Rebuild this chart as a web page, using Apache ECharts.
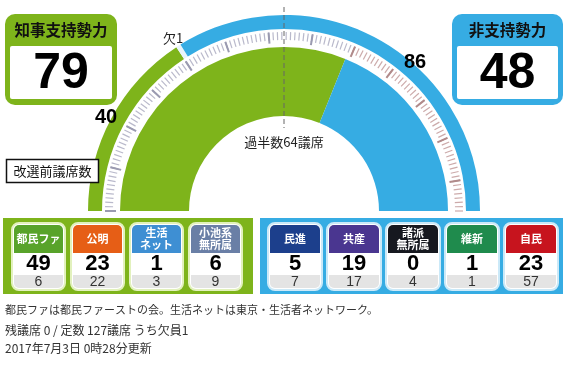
<!DOCTYPE html>
<html>
<head>
<meta charset="utf-8">
<script src="https://cdn.jsdelivr.net/npm/echarts@6/dist/echarts.min.js"></script>
<style>
html, body { margin: 0; padding: 0; background: #fff; }
#chart { width: 570px; height: 366px; }
</style>
</head>
<body>
<div id="chart"></div>
<script>
// ---- 都議選 議席データ ----
const TOTAL_SEATS = 127;
const MAJORITY = 64;
const VACANT = 1;

const supportParties = ['都民ファ', '公明', '生活\nネット', '小池系\n無所属'];
const supportSeats   = [49, 23, 1, 6];
const supportPrev    = [6, 22, 3, 9];

const oppParties = ['民進', '共産', '諸派\n無所属', '維新', '自民'];
const oppSeats   = [5, 19, 0, 1, 23];
const oppPrev    = [7, 17, 4, 1, 57];

const blocTitles = ['知事支持勢力', '非支持勢力'];
const prevCaption = '改選前議席数';
const vacantCaption = '欠';
const majorityCaption = '過半数' + MAJORITY + '議席';
const notes = [
  '都民ファは都民ファーストの会。生活ネットは東京・生活者ネットワーク。',
  '残議席 0 / 定数 127議席 うち欠員1',
  '2017年7月3日 0時28分更新'
];

// ---- styles ----
const GREEN = '#7eb41b';
const BLUE = '#36ace3';
const supportColors = ['#58a32a', '#e65e16', '#3e8fd3', '#6a7fa6'];
const oppColors = ['#1c3f8c', '#4a3690', '#16181f', '#1f8b4d', '#c7141e'];
const JP = "'Noto Sans CJK JP', sans-serif";
const NUM = "'Liberation Sans', Arial, sans-serif";

const sum = a => a.reduce((s, v) => s + v, 0);
const supportTotal = sum(supportSeats);
const oppTotal = sum(oppSeats);
const supportPrevTotal = sum(supportPrev);
const oppPrevTotal = sum(oppPrev);

// gauge geometry
const CX = 284, CY = 211;
const TICK_R = 179;
const MAJOR_STEP = 10;
const MAJOR_MAX = Math.floor(TOTAL_SEATS / MAJOR_STEP) * MAJOR_STEP;

function seatAngle(seat) { return 180 - 180 * seat / TOTAL_SEATS; }
function seatPoint(seat, r) {
  const a = seatAngle(seat) * Math.PI / 180;
  return [CX + r * Math.cos(a), CY - r * Math.sin(a)];
}

const none = 'rgba(0,0,0,0)';
const ringBase = {
  type: 'pie', center: [CX, CY], startAngle: 180, clockwise: true,
  silent: true, animation: false, avoidLabelOverlap: false,
  label: { show: false }, labelLine: { show: false },
  emphasis: { disabled: true },
  itemStyle: { borderWidth: 0 }
};

// a scale ring covering seats `from`..`to`
function tickRing(from, to, splits, split, tick, colorStops) {
  return {
    type: 'gauge', center: [CX, CY], radius: TICK_R,
    min: from, max: to,
    startAngle: seatAngle(from), endAngle: seatAngle(to),
    splitNumber: splits,
    axisLine: { show: false, lineStyle: { width: 0, color: colorStops } },
    splitLine: split,
    axisTick: tick,
    axisLabel: { show: false },
    pointer: { show: false }, anchor: { show: false },
    title: { show: false }, detail: { show: false }, progress: { show: false },
    silent: true, animation: false,
    data: [{ value: from }]
  };
}
const hidden = { show: false };
const minorTick = { show: true, splitNumber: MAJOR_STEP, length: 8, distance: 0,
  lineStyle: { color: 'auto', width: 1.2 } };
const minorLine = { show: true, length: 8, distance: 0, lineStyle: { color: 'auto', width: 1.2 } };
const majorLine = { show: true, length: 11, distance: 0, lineStyle: { color: 'auto', width: 2 } };

// tick colour switches where the supporting bloc ends
const minorStops = (lo, hi) => [[(supportTotal - lo) / (hi - lo), '#b9b9cb'], [1, '#ccaaaa']];
const majorStops = (lo, hi) => [[(supportTotal - lo) / (hi - lo), '#9a9ab0'], [1, '#b08a8a']];

function text(t, x, y, font, fill, align, extra) {
  return {
    type: 'text', z: 100, silent: true,
    style: Object.assign({
      text: t, x: x, y: y, font: font, fill: fill || '#111',
      align: align || 'center', verticalAlign: 'middle',
      textAlign: align || 'center', textVerticalAlign: 'middle'
    }, extra || {})
  };
}

function card(x, y, w, name, seats, prev, color, border) {
  const h = 67;
  return [
    { type: 'rect', z: 50, shape: { x: x, y: y, width: w, height: h, r: 7 },
      style: { fill: '#fff', stroke: border, lineWidth: 2 } },
    { type: 'rect', z: 51, shape: { x: x + 2, y: y + 2, width: w - 4, height: 28, r: [5, 5, 0, 0] },
      style: { fill: color } },
    { type: 'rect', z: 51, shape: { x: x + 2, y: y + 52, width: w - 4, height: 13, r: [0, 0, 5, 5] },
      style: { fill: '#e4e4e4' } },
    text(name, x + w / 2, y + 16, 'bold 11px ' + JP, '#fff', 'center', { lineHeight: 12 }),
    text(String(seats), x + w / 2, y + 41, 'bold 22px ' + NUM, '#000'),
    text(String(prev), x + w / 2, y + 59, '14px ' + NUM, '#333')
  ];
}

const graphics = [];

// bloc boxes
function blocBox(x, y, w, h, color, title, total) {
  graphics.push(
    { type: 'rect', z: 40, shape: { x: x, y: y, width: w, height: h, r: 10 }, style: { fill: color } },
    { type: 'rect', z: 41, shape: { x: x + 5, y: y + 32, width: w - 10, height: h - 38, r: 2 }, style: { fill: '#fff' } },
    text(title, x + w / 2, y + 16, 'bold 15.5px ' + JP, '#111'),
    text(String(total), x + w / 2, y + 60, 'bold 50px ' + NUM, '#000')
  );
}
blocBox(5, 14, 112, 91, GREEN, blocTitles[0], supportTotal);
blocBox(452, 14, 111, 91, BLUE, blocTitles[1], oppTotal);

// previous seat caption box
graphics.push(
  { type: 'rect', z: 40, shape: { x: 6.5, y: 159.5, width: 92, height: 23 },
    style: { fill: '#fff', stroke: '#111', lineWidth: 1.5 } },
  text(prevCaption, 52.5, 171, '13px ' + JP, '#111')
);

// majority line
const mTop = seatPoint(TOTAL_SEATS / 2, 204);
const mBot = seatPoint(TOTAL_SEATS / 2, 83);
graphics.push(
  { type: 'line', z: 90, silent: true,
    shape: { x1: mTop[0], y1: mTop[1], x2: mBot[0], y2: mBot[1] },
    style: { stroke: '#666', lineWidth: 1, lineDash: [5, 3] } },
  text(majorityCaption, CX, 142, '13px ' + JP, '#222')
);

// ring labels
graphics.push(
  text(String(supportPrevTotal), 106, 117, 'bold 20px ' + NUM, '#000'),
  text(String(oppPrevTotal), 415, 62, 'bold 20px ' + NUM, '#000'),
  text(vacantCaption + VACANT, 173, 38, '13px ' + JP, '#222')
);

// party panels
graphics.push(
  { type: 'rect', z: 30, shape: { x: 3, y: 218, width: 250, height: 76 }, style: { fill: GREEN } },
  { type: 'rect', z: 30, shape: { x: 260, y: 218, width: 303, height: 76 }, style: { fill: BLUE } }
);
supportParties.forEach((p, i) => {
  graphics.push(...card(12 + i * 59, 223, 53, p, supportSeats[i], supportPrev[i], supportColors[i], '#e2f1bd'));
});
oppParties.forEach((p, i) => {
  graphics.push(...card(268 + i * 59, 223, 54, p, oppSeats[i], oppPrev[i], oppColors[i], '#cbe9f8'));
});

// notes
notes.forEach((n, i) => {
  graphics.push(text(n, 5, [310, 330, 348][i], (i === 0 ? '11px ' : '12px ') + JP, '#333', 'left'));
});

const chart = echarts.init(document.getElementById('chart'), null, { renderer: 'canvas' });
chart.setOption({
  backgroundColor: '#fff',
  animation: false,
  series: [
    // 当選議席（内側）
    Object.assign({}, ringBase, {
      radius: [95, 164],
      data: [
        { name: blocTitles[0], value: supportTotal, itemStyle: { color: GREEN } },
        { name: blocTitles[1], value: oppTotal, itemStyle: { color: BLUE } },
        { name: '', value: TOTAL_SEATS, itemStyle: { color: none } }
      ]
    }),
    // 改選前議席（外側）
    Object.assign({}, ringBase, {
      radius: [182, 196],
      data: [
        { name: blocTitles[0], value: supportPrevTotal, itemStyle: { color: GREEN } },
        { name: vacantCaption, value: VACANT, itemStyle: { color: '#e8f4fa' } },
        { name: blocTitles[1], value: oppPrevTotal, itemStyle: { color: BLUE } },
        { name: '', value: TOTAL_SEATS, itemStyle: { color: none } }
      ]
    }),
    // 1議席ごとの目盛り
    tickRing(0, MAJOR_MAX, MAJOR_MAX / MAJOR_STEP, hidden, minorTick, minorStops(0, MAJOR_MAX)),
    tickRing(MAJOR_MAX, TOTAL_SEATS, TOTAL_SEATS - MAJOR_MAX, minorLine, hidden,
      minorStops(MAJOR_MAX, TOTAL_SEATS)),
    // 10議席ごとの目盛り
    tickRing(0, MAJOR_MAX, MAJOR_MAX / MAJOR_STEP, majorLine, hidden, majorStops(0, MAJOR_MAX))
  ],
  graphic: { elements: graphics }
});
</script>
</body>
</html>
